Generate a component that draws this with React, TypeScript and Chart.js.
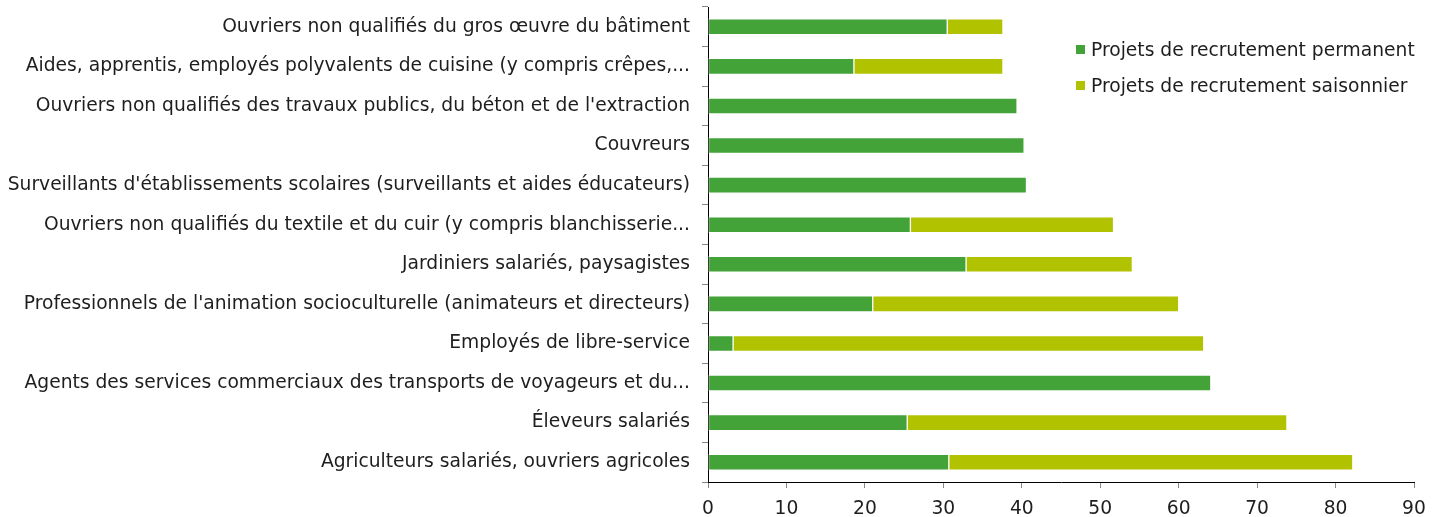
import React, { useEffect, useRef } from "react";
import { Chart, registerables } from "chart.js";

Chart.register(...registerables);

const categories = [
  "Ouvriers non qualifiés du gros œuvre du bâtiment",
  "Aides, apprentis, employés polyvalents de cuisine (y compris crêpes,...",
  "Ouvriers non qualifiés des travaux publics, du béton et de l'extraction",
  "Couvreurs",
  "Surveillants d'établissements scolaires (surveillants et aides éducateurs)",
  "Ouvriers non qualifiés du textile et du cuir (y compris blanchisserie...",
  "Jardiniers salariés, paysagistes",
  "Professionnels de l'animation socioculturelle (animateurs et directeurs)",
  "Employés de libre-service",
  "Agents des services commerciaux des transports de voyageurs et du...",
  "Éleveurs salariés",
  "Agriculteurs salariés, ouvriers agricoles",
];

const permanent = [30.5, 18.6, 39.4, 40.3, 40.6, 25.8, 32.9, 21.0, 3.2, 64.1, 25.4, 30.7];
const saisonnier = [7.1, 19.0, 0, 0, 0, 25.9, 21.2, 39.0, 60.0, 0, 48.4, 51.5];

const seriesNames = ["Projets de recrutement permanent", "Projets de recrutement saisonnier"];
const seriesColors = ["#43a338", "#b1c200"];

const xTicks = [0, 10, 20, 30, 40, 50, 60, 70, 80, 90];

const FONT = "'DejaVu Sans', Verdana, sans-serif";
const FONT_SIZE = 18.7;
const TEXT = "#1e1e1e";

export default function App() {
  const ref = useRef<HTMLCanvasElement | null>(null);

  useEffect(() => {
    if (!ref.current) return;
    const chart = new Chart(ref.current, {
      type: "bar",
      data: {
        labels: categories,
        datasets: [
          {
            label: seriesNames[0],
            data: permanent,
            backgroundColor: seriesColors[0],
            borderColor: "rgba(255,255,255,0.35)",
            borderWidth: 1,
            borderSkipped: false,
            barThickness: 16,
          },
          {
            label: seriesNames[1],
            data: saisonnier,
            backgroundColor: seriesColors[1],
            borderColor: "rgba(255,255,255,0.35)",
            borderWidth: 1,
            borderSkipped: false,
            barThickness: 16,
          },
        ],
      },
      options: {
        indexAxis: "y",
        responsive: false,
        animation: false,
        layout: { padding: { top: 7, right: 26, bottom: 0, left: 0 } },
        plugins: {
          legend: { display: false },
          tooltip: { enabled: false },
        },
        scales: {
          x: {
            stacked: true,
            min: 0,
            max: 90,
            afterBuildTicks: (scale: any) => {
              scale.ticks = xTicks.map((v) => ({ value: v }));
            },
            afterFit: (scale: any) => {
              scale.height = 35;
              scale.paddingLeft = 0;
              scale.paddingRight = 0;
            },
            grid: {
              drawOnChartArea: false,
              drawTicks: true,
              tickLength: 6,
              color: "#888888",
            },
            border: { display: true, color: "#000000", width: 1 },
            ticks: {
              color: TEXT,
              font: { family: FONT, size: FONT_SIZE, lineHeight: 1.15 },
              padding: 10,
              maxRotation: 0,
            },
          },
          y: {
            stacked: true,
            afterFit: (scale: any) => {
              scale.width = 708;
              scale.paddingTop = 0;
              scale.paddingBottom = 0;
            },
            grid: {
              drawOnChartArea: false,
              drawTicks: true,
              tickLength: 6,
              color: "#888888",
              offset: true,
            },
            border: { display: true, color: "#000000", width: 1 },
            ticks: {
              color: TEXT,
              font: { family: FONT, size: FONT_SIZE },
              padding: 12,
              autoSkip: false,
            },
          },
        },
      },
    });
    return () => chart.destroy();
  }, []);

  return (
    <div style={{ position: "absolute", left: 0, top: 0, width: 1440, height: 517, background: "#fff" }}>
      <canvas ref={ref} width={1440} height={517} style={{ display: "block" }} />
      {seriesNames.map((name, i) => (
        <div
          key={name}
          style={{
            position: "absolute",
            left: 1076,
            top: 38 + i * 36,
            height: 22,
            display: "flex",
            alignItems: "center",
            fontFamily: FONT,
            fontSize: FONT_SIZE,
            color: TEXT,
            whiteSpace: "nowrap",
          }}
        >
          <span style={{ display: "inline-block", width: 9, height: 9, background: seriesColors[i], marginRight: 6 }} />
          <span>{name}</span>
        </div>
      ))}
    </div>
  );
}
